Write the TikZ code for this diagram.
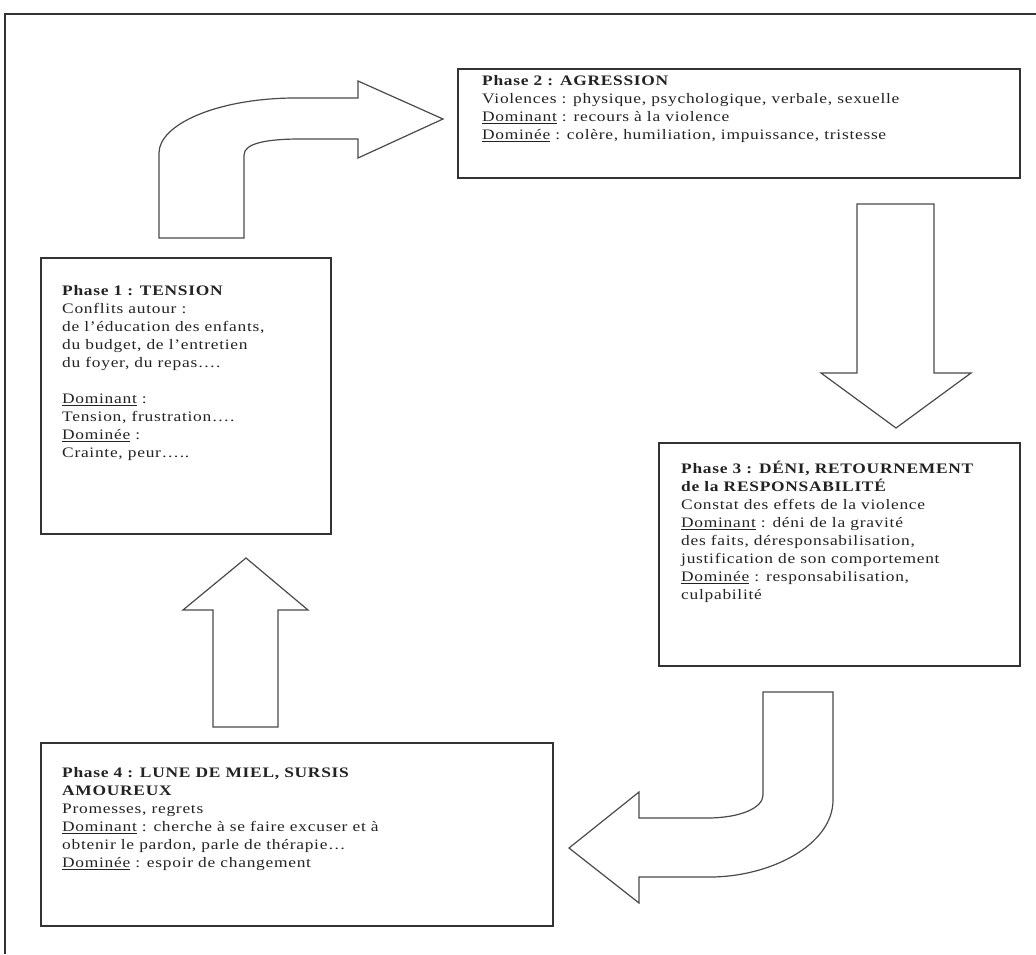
\documentclass[tikz,border=0pt]{standalone}
\usepackage{fontspec}
\setmainfont{Liberation Serif}[FakeStretch=1.2,LetterSpace=5]
\definecolor{ink}{HTML}{222222}
\definecolor{edge}{HTML}{333333}
\definecolor{arr}{HTML}{4A4A4A}
\begin{document}
\begin{tikzpicture}[x=1pt,y=-1pt,
  phasebox/.style={draw=edge,line width=1.6pt,inner sep=0pt,anchor=north west},
  phasetext/.style={anchor=north west,inner sep=0pt,align=left,text=ink,
    font=\fontsize{14.5}{18}\selectfont},
  blockarrow/.style={draw=arr,line width=1.2pt,line join=miter,fill=white}]
\useasboundingbox (0,0) rectangle (1036,954);
% outer frame (partly cropped)
\coordinate (fbl) at (5,954);
\coordinate (ftl) at (5,14);
\coordinate (ftr) at (1036,14);
\draw[draw=edge,line width=1.6pt] (fbl) -- (ftl) -- (ftr);

% boxes
\node[phasebox,minimum width=562pt,minimum height=109pt] (b2) at (457,68) {};
\node[phasebox,minimum width=290pt,minimum height=276pt] (b1) at (40,257) {};
\node[phasebox,minimum width=361pt,minimum height=223pt] (b3) at (658,442) {};
\node[phasebox,minimum width=512pt,minimum height=183pt] (b4) at (40,742) {};

% texts
\node[phasetext] (t2) at (482,75) {\textbf{Phase 2 : AGRESSION}\\
Violences : physique, psychologique, verbale, sexuelle\\
\underline{Dominant} : recours à la violence\\
\underline{Dominée} : colère, humiliation, impuissance, tristesse};

\node[phasetext] (t1) at (62,285) {\textbf{Phase 1 : TENSION}\\
Conflits autour :\\
de l’éducation des enfants,\\
du budget, de l’entretien\\
du foyer, du repas….\\[18pt]
\underline{Dominant} :\\
Tension, frustration….\\
\underline{Dominée} :\\
Crainte, peur…..};

\node[phasetext] (t3) at (681,461) {\textbf{Phase 3 : DÉNI, RETOURNEMENT}\\
\textbf{de la RESPONSABILITÉ}\\
Constat des effets de la violence\\
\underline{Dominant} : déni de la gravité\\
des faits, déresponsabilisation,\\
justification de son comportement\\
\underline{Dominée} : responsabilisation,\\
culpabilité};

\node[phasetext] (t4) at (62,767) {\textbf{Phase 4 : LUNE DE MIEL, SURSIS}\\
\textbf{AMOUREUX}\\
Promesses, regrets\\
\underline{Dominant} : cherche à se faire excuser et à\\
obtenir le pardon, parle de thérapie…\\
\underline{Dominée} : espoir de changement};

% arrow 1 -> 2 (curved, up then right)
\draw[blockarrow] (159,238) -- (244,238) -- (244,155)
  .. controls (244,143) and (268,139) .. (300,139) -- (358,139) -- (358,158)
  -- (443,119) -- (358,81) -- (358,98) -- (292,98)
  .. controls (215,99) and (159,125) .. (159,153) -- cycle;

% arrow 2 -> 3 (down)
\draw[blockarrow] (857,204) -- (934,204) -- (934,373) -- (971,373)
  -- (896,428) -- (821,373) -- (857,373) -- cycle;

% arrow 3 -> 4 (curved, down then left)
\draw[blockarrow] (763,692) -- (833,692) -- (833,800)
  .. controls (833,845) and (770,877) .. (710,877) -- (639,877) -- (639,903)
  -- (569,848) -- (639,792) -- (639,818) -- (707,818)
  .. controls (740,818) and (763,808) .. (763,795) -- cycle;

% arrow 4 -> 1 (up)
\draw[blockarrow] (213,727) -- (278,727) -- (278,610) -- (308,610)
  -- (246,558) -- (183,610) -- (213,610) -- cycle;
\end{tikzpicture}
\end{document}
